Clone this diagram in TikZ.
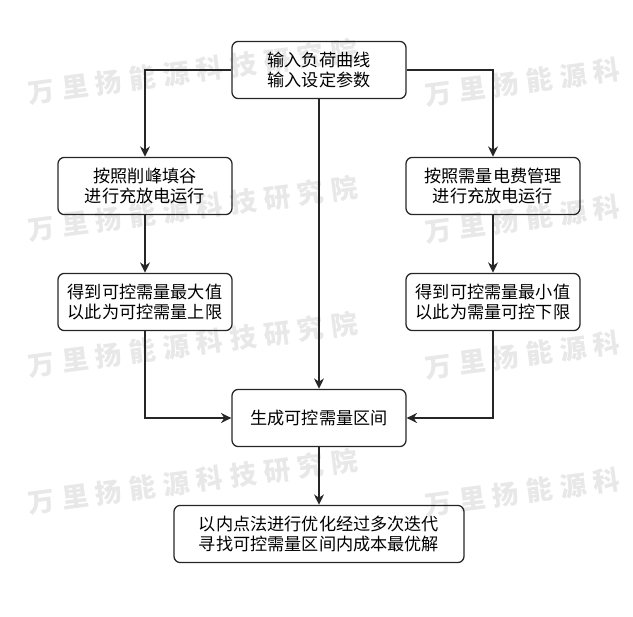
\documentclass[tikz,border=0pt]{standalone}
\usepackage{fontspec}
\usepackage{xcolor}
\newfontfamily\cjk{Noto Sans CJK SC}
\newfontfamily\wmfont[LetterSpace=27]{Noto Sans CJK SC}
\usetikzlibrary{arrows.meta, positioning}

\begin{document}
\begin{tikzpicture}[x=0.025cm, y=-0.025cm, >={Stealth[length=2.6mm, width=2.5mm]},
  font=\cjk\fontsize{12.2}{14.6}\selectfont,
  stepbox/.style = {draw=black!85, line width=0.9pt, rounded corners=1.6mm,
                    minimum width=4.35cm, minimum height=1.43cm,
                    align=center, inner sep=2pt},
  link/.style    = {->, draw=black!85, line width=0.9pt},
  wmark/.style   = {anchor=west, rotate=7.5, text=black!9, inner sep=0pt,
                    font=\wmfont\bfseries\fontsize{19}{19}\selectfont}
]
  \useasboundingbox (0,0) rectangle (633,617);

  %% watermark (behind everything)
  \foreach \wy [count=\i] in {93,230,366,503} {
    \node[wmark] (wmL\i) at (28,\wy)  {万里扬能源科技研究院};
    \node[wmark] (wmR\i) at (425,\wy+2) {万里扬能源科};
  }

  %% boxes
  \node[stepbox] (input) at (319,70)  {输入负荷曲线\\输入设定参数};
  \node[stepbox] (peak)  at (145,186) {按照削峰填谷\\进行充放电运行};
  \node[stepbox] (fee)   at (493,186) {按照需量电费管理\\进行充放电运行};
  \node[stepbox] (upper) at (145,302) {得到可控需量最大值\\以此为可控需量上限};
  \node[stepbox] (lower) at (493,302) {得到可控需量最小值\\以此为需量可控下限};
  \node[stepbox] (range) at (319,418) {生成可控需量区间};
  \node[stepbox, minimum width=7.25cm] (opt) at (319,534)
      {以内点法进行优化经过多次迭代\\寻找可控需量区间内成本最优解};

  %% connectors
  \draw[link] (input.west) -| (peak);
  \draw[link] (input.east) -| (fee);
  \draw[link] (input) -- (range);
  \draw[link] (peak) -- (upper);
  \draw[link] (fee) -- (lower);
  \draw[link] (upper.south) |- (range.west);
  \draw[link] (lower.south) |- (range.east);
  \draw[link] (range) -- (opt);
\end{tikzpicture}
\end{document}
